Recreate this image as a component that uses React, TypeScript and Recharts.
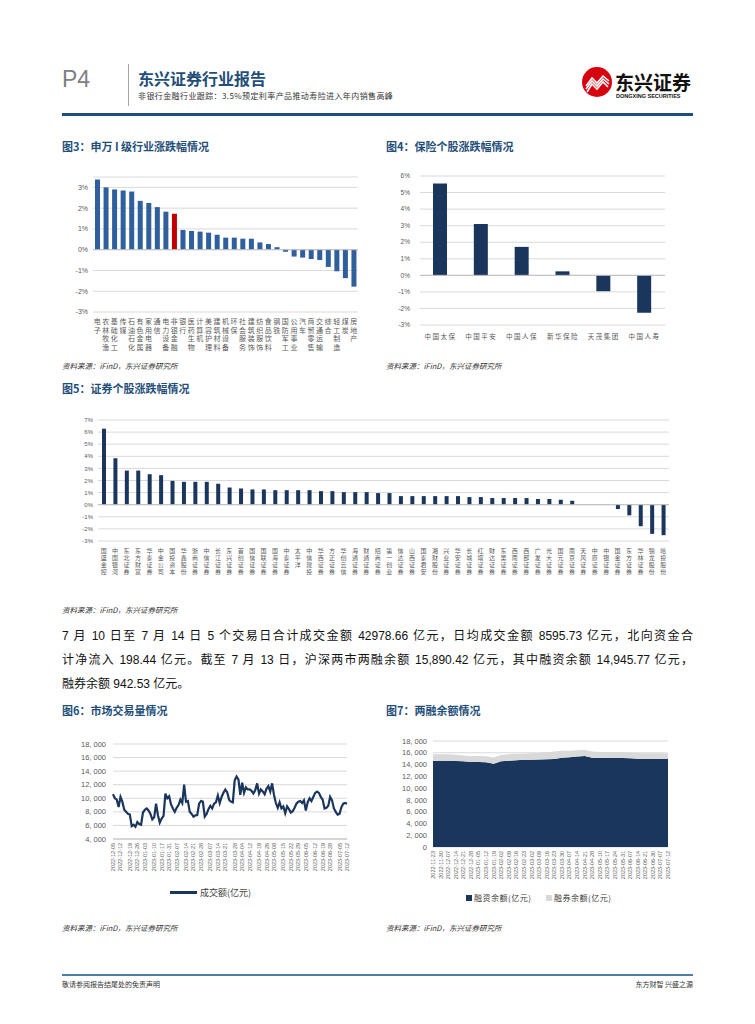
import React from 'react';
import {
  BarChart, Bar, Cell, XAxis, YAxis, CartesianGrid, ReferenceLine,
  LineChart, Line, AreaChart, Area,
} from 'recharts';

// ---- data ----
const swNames = ['电子', '农林牧渔', '基础化工', '传媒', '石油石化', '有色金属', '家用电器', '通信', '电力设备', '非银金融',
  '银行', '医药生物', '计算机', '美容护理', '建筑材料', '机械设备', '环保', '社会服务', '建筑装饰', '纺织服饰',
  '食品饮料', '钢铁', '国防军工', '公用事业', '汽车', '商贸零售', '交通运输', '综合', '轻工制造', '煤炭', '房地产'];
const swChg = [3.38, 3.0, 2.9, 2.85, 2.8, 2.35, 2.25, 2.05, 1.83, 1.73, 0.95, 0.9, 0.87, 0.82, 0.72, 0.58, 0.58, 0.53, 0.53, 0.35,
  0.27, 0.12, -0.1, -0.33, -0.38, -0.45, -0.5, -0.83, -1.04, -1.37, -1.78];

const insNames = ['中国太保', '中国平安', '中国人保', '新华保险', '天茂集团', '中国人寿'];
const insChg = [5.54, 3.1, 1.72, 0.24, -0.96, -2.26];

const secNames = ['国盛金控', '中国银河', '东北证券', '东方财富', '华泰证券', '中金公司', '国投资本', '华鑫股份', '浙商证券', '中信证券',
  '长江证券', '东兴证券', '首创证券', '国信证券', '国联证券', '国海证券', '中泰证券', '太平洋', '中信建投', '华西证券',
  '方正证券', '华创云信', '海通证券', '财通证券', '招商证券', '第一创业', '信达证券', '山西证券', '国泰君安', '湘财股份',
  '兴业证券', '华安证券', '长城证券', '红塔证券', '财达证券', '东吴证券', '西南证券', '西部证券', '广发证券', '光大证券',
  '国元证券', '南京证券', '天风证券', '中原证券', '中银证券', '国金证券', '东方证券', '华林证券', '锦龙股份', '哈投股份'];
const secChg = [6.28, 3.84, 2.82, 2.82, 2.52, 2.44, 1.97, 1.89, 1.89, 1.89,
  1.73, 1.42, 1.34, 1.26, 1.26, 1.2, 1.2, 1.2, 1.2, 1.12,
  1.12, 1.04, 1.04, 1.04, 0.96, 0.96, 0.71, 0.71, 0.71, 0.71,
  0.71, 0.71, 0.63, 0.63, 0.55, 0.55, 0.55, 0.55, 0.47, 0.47,
  0.41, 0.33, 0, 0, 0, -0.36, -0.88, -1.78, -2.41, -2.52];

const volDates = ['2022-12-05', '2022-12-12', '2022-12-19', '2022-12-26', '2023-01-03', '2023-01-10', '2023-01-17', '2023-01-31',
  '2023-02-07', '2023-02-14', '2023-02-21', '2023-02-28', '2023-03-07', '2023-03-14', '2023-03-21', '2023-03-28',
  '2023-04-04', '2023-04-12', '2023-04-19', '2023-04-26', '2023-05-08', '2023-05-15', '2023-05-22', '2023-05-29',
  '2023-06-05', '2023-06-12', '2023-06-19', '2023-06-28', '2023-07-05', '2023-07-12'];
const volume = [10600, 10000, 9800, 8700, 10200, 9500, 8300, 8000, 7700, 7600,
  5900, 6100, 5800, 6500, 6200, 6100, 7900, 8300, 8500, 8200,
  7700, 6900, 7200, 9200, 7500, 6400, 7000, 7400, 10700, 10000,
  10300, 9100, 8500, 8000, 8600, 9000, 9800, 9300, 12000, 9500,
  9600, 8000, 7700, 7300, 7500, 7500, 9200, 9600, 9500, 7300,
  7700, 8400, 8900, 8500, 9200, 9400, 10400, 9300, 10200, 10800,
  11300, 10900, 9800, 9500, 9400, 12600, 13200, 12800, 10500, 12300,
  10800, 11600, 11300, 11300, 11100, 10700, 11200, 12200, 10700, 11300,
  11000, 10600, 11400, 11800, 11000, 12200, 10500, 9300, 8600, 9400,
  8500, 8800, 7800, 8800, 8400, 7900, 8100, 8600, 9200, 9500,
  9600, 9300, 9700, 8200, 9400, 10000, 9600, 10200, 10800, 11000,
  10800, 10200, 9800, 8500, 8600, 8900, 10200, 9700, 8500, 8000,
  7600, 7700, 8700, 9200, 9300, 9200];

const marginDates = ['2022-11-23', '2022-11-30', '2022-12-07', '2022-12-14', '2022-12-21', '2022-12-28', '2023-01-05', '2023-01-12',
  '2023-01-19', '2023-02-02', '2023-02-09', '2023-02-16', '2023-02-23', '2023-03-02', '2023-03-09', '2023-03-16',
  '2023-03-23', '2023-03-30', '2023-04-07', '2023-04-14', '2023-04-21', '2023-04-28', '2023-05-10', '2023-05-17',
  '2023-05-24', '2023-05-31', '2023-06-07', '2023-06-14', '2023-06-21', '2023-06-30', '2023-07-07', '2023-07-12'];
const financing = [14600, 14650, 14650, 14600, 14550, 14450, 14450, 14400, 14150, 14550, 14650, 14750, 14800, 14800, 14850, 14900,
  14950, 15150, 15250, 15350, 15450, 15150, 15100, 15150, 15100, 15100, 15050, 15000, 14950, 14950, 14950, 14946];
const securities = [1150, 1120, 1100, 1050, 1000, 980, 1000, 1000, 1050, 1080, 1100, 1080, 1050, 1100, 1150, 1200,
  1250, 1200, 1100, 1100, 1050, 1050, 1050, 1000, 1000, 980, 970, 960, 960, 950, 950, 943];

// ---- styles ----
const SANS = '"Liberation Sans", Arial, "Noto Sans CJK SC", sans-serif';
const CJK = '"Noto Sans CJK SC", "Liberation Sans", sans-serif';
const NAVY = '#1a365d';
const TITLE = '#1f4e79';
const GRID = '#d9d9d9';
const TICK = '#595959';

const swData = swNames.map((name, i) => ({ name, v: swChg[i] }));
const insData = insNames.map((name, i) => ({ name, v: insChg[i] }));
const secData = secNames.map((name, i) => ({ name, v: secChg[i] }));
const volData = volume.map((v, i) => ({ i, v }));
const volTicks = volDates.map((_, k) => Math.round((k * (volume.length - 1)) / (volDates.length - 1)));
const marginData = marginDates.map((d, i) => ({ d, fin: financing[i], sec: securities[i] }));

const pct = (v: number) => `${v}%`;
const thousands = (v: number) =>
  v >= 1000 ? `${Math.floor(v / 1000)},\u00a0${String(v % 1000).padStart(3, '0')}` : String(v);

const VTick = (props: any) => {
  const { x, y, payload, fontSize, step, first } = props;
  const chars = String(payload.value).split('');
  return (
    <text x={x} y={y} textAnchor="middle" fontSize={fontSize} fill={TICK} fontFamily={CJK}>
      {chars.map((c, i) => (
        <tspan key={i} x={x} dy={i === 0 ? first : step}>{c}</tspan>
      ))}
    </text>
  );
};

const RTick = (props: any) => {
  const { x, y, label } = props;
  return (
    <text transform={`translate(${x},${y + 4}) rotate(-90)`} textAnchor="end" dominantBaseline="central"
      fontSize={5.5} fill={TICK} fontFamily={SANS}>
      {label}
    </text>
  );
};

const YTick = (props: any) => {
  const { x, y, payload, fmt, fontSize } = props;
  return (
    <text x={x} y={y} dy="0.35em" textAnchor="end" fontSize={fontSize} fill={TICK} fontFamily={SANS}>
      {fmt(payload.value)}
    </text>
  );
};

const abs = (left: number, top: number, extra: React.CSSProperties = {}): React.CSSProperties => ({
  position: 'absolute', left, top, lineHeight: 1, whiteSpace: 'nowrap', ...extra,
});

const FigTitle = ({ left, cy, text }: { left: number; cy: number; text: string }) => (
  <div style={abs(left, cy - 6, { fontSize: 11, fontWeight: 'bold', color: TITLE, fontFamily: CJK })}>{text}</div>
);
const Source = ({ left, cy }: { left: number; cy: number }) => (
  <div style={abs(left, cy - 4, { fontSize: 7.5, fontStyle: 'italic', color: '#333', fontFamily: CJK })}>
    资料来源：iFinD，东兴证券研究所
  </div>
);

const para = [
  '7 月 10 日至 7 月 14 日 5 个交易日合计成交金额 42978.66 亿元，日均成交金额 8595.73 亿元，北向资金合',
  '计净流入 198.44 亿元。截至 7 月 13 日，沪深两市两融余额 15,890.42 亿元，其中融资余额 14,945.77 亿元，',
  '融券余额 942.53 亿元。',
];

export default function App() {
  return (
    <div style={{ position: 'absolute', left: 0, top: 0, width: 755, height: 1024, background: '#fff', fontFamily: CJK }}>
      {/* header */}
      <div style={abs(62, 68, { fontSize: 23, color: '#808080', fontFamily: SANS })}>P4</div>
      <div style={abs(128, 64, { width: 1, height: 42, background: '#a6a6a6' })} />
      <div style={abs(138, 70, { fontSize: 16, fontWeight: 'bold', color: TITLE })}>东兴证券行业报告</div>
      <div style={abs(138, 92, { fontSize: 8, color: '#333', letterSpacing: 0.4 })}>
        非银行金融行业跟踪：3.5%预定利率产品推动寿险进入年内销售高峰
      </div>
      <svg style={abs(581, 66)} width={32} height={32} viewBox="0 0 32 32">
        <circle cx={16} cy={16} r={15} fill="#d7000f" />
        <path d="M5 20 L11 12 L16 17 L22 10 L28 15" stroke="#fff" strokeWidth={1.6} fill="none" />
        <path d="M5 23 L11 15 L16 20 L22 13 L28 18" stroke="#fff" strokeWidth={1.6} fill="none" />
        <path d="M6 26 L11 18 L16 23 L22 16 L27 21" stroke="#fff" strokeWidth={1.6} fill="none" />
      </svg>
      <div style={abs(615, 72, { fontSize: 19, fontWeight: 'bold', color: '#111' })}>东兴证券</div>
      <div style={abs(616, 94, { fontSize: 5.5, fontWeight: 'bold', color: '#111', fontFamily: SANS })}>DONGXING SECURITIES</div>
      <div style={abs(62, 113, { width: 631, height: 3, background: TITLE })} />

      {/* fig 3 */}
      <FigTitle left={62} cy={147} text="图3：申万 I 级行业涨跌幅情况" />
      <div style={abs(62, 170)}>
        <BarChart width={298} height={190} data={swData} margin={{ top: 7, right: 2, left: 0, bottom: 0 }}>
          <CartesianGrid vertical={false} stroke={GRID} />
          <YAxis domain={[-3, 3.5]} ticks={[-3, -2, -1, 0, 1, 2, 3]} interval={0} width={31}
            axisLine={false} tickLine={false} tickSize={3} tickMargin={2}
            tick={(p: any) => <YTick {...p} fmt={pct} fontSize={7} />} />
          <XAxis dataKey="name" interval={0} axisLine={false} tickLine={false} tickSize={0} tickMargin={0} height={48}
            tick={(p: any) => <VTick {...p} fontSize={7} first={12} step={8.5} />} />
          <ReferenceLine y={0} stroke="#bfbfbf" />
          <Bar dataKey="v" barSize={5} isAnimationActive={false}>
            {swData.map((d, i) => (
              <Cell key={i} fill={d.name === '非银金融' ? '#c00000' : '#2f5f9c'} />
            ))}
          </Bar>
        </BarChart>
      </div>
      <Source left={62} cy={366} />

      {/* fig 4 */}
      <FigTitle left={386} cy={147} text="图4：保险个股涨跌幅情况" />
      <div style={abs(386, 168)}>
        <BarChart width={281} height={177} data={insData} margin={{ top: 8, right: 2, left: 0, bottom: 0 }}>
          <CartesianGrid vertical={false} stroke={GRID} />
          <YAxis domain={[-3, 6]} ticks={[-3, -2, -1, 0, 1, 2, 3, 4, 5, 6]} interval={0} width={34}
            axisLine={false} tickLine={false} tickSize={6} tickMargin={4}
            tick={(p: any) => <YTick {...p} fmt={pct} fontSize={6.5} />} />
          <XAxis dataKey="name" interval={0} axisLine={false} tickLine={false} tickSize={0} tickMargin={0} height={20}
            tick={(p: any) => (
              <text x={p.x} y={p.y + 14} textAnchor="middle" fontSize={6.5} letterSpacing={1.5} fill={TICK} fontFamily={CJK}>
                {p.payload.value}
              </text>
            )} />
          <ReferenceLine y={0} stroke="#bfbfbf" />
          <Bar dataKey="v" barSize={14} fill={NAVY} isAnimationActive={false} />
        </BarChart>
      </div>
      <Source left={386} cy={366} />

      {/* fig 5 */}
      <FigTitle left={62} cy={389} text="图5：证券个股涨跌幅情况" />
      <div style={abs(62, 412)}>
        <BarChart width={607} height={167} data={secData} margin={{ top: 8, right: 0, left: 0, bottom: 0 }}>
          <CartesianGrid vertical={false} stroke={GRID} />
          <YAxis domain={[-3, 7]} ticks={[-3, -2, -1, 0, 1, 2, 3, 4, 5, 6, 7]} interval={0} width={36}
            axisLine={false} tickLine={false} tickSize={3} tickMargin={2}
            tick={(p: any) => <YTick {...p} fmt={pct} fontSize={6} />} />
          <XAxis dataKey="name" interval={0} axisLine={false} tickLine={false} tickSize={0} tickMargin={0} height={38}
            tick={(p: any) => <VTick {...p} fontSize={6} first={12} step={7} />} />
          <ReferenceLine y={0} stroke="#bfbfbf" />
          <Bar dataKey="v" barSize={4} fill={NAVY} isAnimationActive={false} />
        </BarChart>
      </div>
      <Source left={62} cy={610} />

      {/* paragraph */}
      {para.map((line, i) => (
        <div key={i} style={{
          position: 'absolute', left: 62, top: 628 + i * 24, width: 631, fontSize: 12, lineHeight: '16px',
          color: '#111', fontFamily: SANS, whiteSpace: 'nowrap',
          textAlign: i < 2 ? 'justify' : 'left', textAlignLast: i < 2 ? 'justify' : 'left',
        }}>{line}</div>
      ))}

      {/* fig 6 */}
      <FigTitle left={62} cy={711} text="图6：市场交易量情况" />
      <div style={abs(62, 736)}>
        <LineChart width={290} height={143} data={volData} margin={{ top: 8, right: 5, left: 0, bottom: 0 }}>
          <CartesianGrid vertical={false} stroke={GRID} />
          <YAxis domain={[4000, 18000]} ticks={[4000, 6000, 8000, 10000, 12000, 14000, 16000, 18000]} interval={0}
            width={51} axisLine={false} tickLine={false} tickSize={4} tickMargin={3}
            tick={(p: any) => <YTick {...p} fmt={thousands} fontSize={7.5} />} />
          <XAxis dataKey="i" type="number" domain={[0, volume.length - 1]} ticks={volTicks} interval={0}
            axisLine={{ stroke: '#bfbfbf' }} tickLine={false} tickSize={0} tickMargin={0} height={40}
            tick={(p: any) => <RTick {...p} label={volDates[volTicks.indexOf(p.payload.value)]} />} />
          <Line dataKey="v" type="linear" stroke={NAVY} strokeWidth={2.2} dot={false} isAnimationActive={false} />
        </LineChart>
      </div>
      <div style={abs(170, 891, { width: 27, height: 3, background: NAVY })} />
      <div style={abs(200, 888, { fontSize: 9, color: '#404040' })}>成交额(亿元)</div>
      <Source left={62} cy={928} />

      {/* fig 7 */}
      <FigTitle left={386} cy={711} text="图7：两融余额情况" />
      <div style={abs(386, 733)}>
        <AreaChart width={287} height={150} data={marginData} margin={{ top: 8, right: 5, left: 0, bottom: 0 }}>
          <CartesianGrid vertical={false} stroke={GRID} />
          <YAxis domain={[0, 18000]} ticks={[0, 2000, 4000, 6000, 8000, 10000, 12000, 14000, 16000, 18000]} interval={0}
            width={47} axisLine={false} tickLine={false} tickSize={3} tickMargin={3}
            tick={(p: any) => <YTick {...p} fmt={thousands} fontSize={7.5} />} />
          <XAxis dataKey="d" interval={0} axisLine={false} tickLine={false} tickSize={0} tickMargin={0} height={36}
            tick={(p: any) => <RTick {...p} label={p.payload.value} />} />
          <Area dataKey="fin" stackId="m" type="linear" stroke="none" fill={NAVY} fillOpacity={1} isAnimationActive={false} />
          <Area dataKey="sec" stackId="m" type="linear" stroke="none" fill="#d9d9d9" fillOpacity={1} isAnimationActive={false} />
        </AreaChart>
      </div>
      <div style={abs(466, 895, { width: 6, height: 6, background: NAVY })} />
      <div style={abs(474, 894, { fontSize: 8, color: '#404040', letterSpacing: 0.5 })}>融资余额(亿元)</div>
      <div style={abs(546, 895, { width: 6, height: 6, background: '#d9d9d9' })} />
      <div style={abs(554, 894, { fontSize: 8, color: '#404040', letterSpacing: 0.5 })}>融券余额(亿元)</div>
      <Source left={386} cy={928} />

      {/* footer */}
      <div style={abs(62, 974, { width: 631, height: 2, background: '#4f7ea8' })} />
      <div style={abs(62, 981, { fontSize: 7, color: '#333' })}>敬请参阅报告结尾处的免责声明</div>
      <div style={{ ...abs(0, 981, { fontSize: 7, color: '#333' }), left: undefined, right: 62 }}>东方财智 兴盛之源</div>
    </div>
  );
}
